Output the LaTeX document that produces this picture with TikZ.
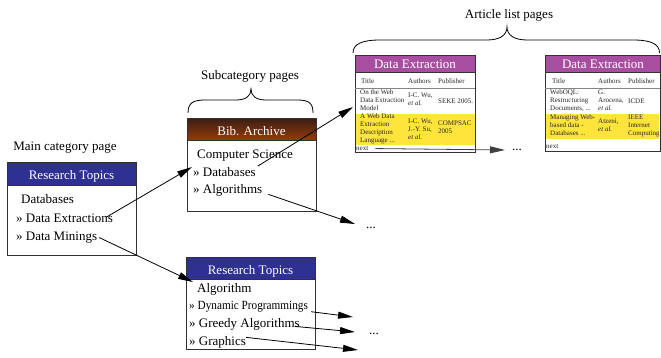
\documentclass[tikz,border=0pt]{standalone}
\usepackage{fontspec}
\setmainfont{Liberation Serif}
\usetikzlibrary{arrows.meta,calc}
\definecolor{hblue}{RGB}{46,49,146}
\definecolor{hpurple}{RGB}{168,78,160}
\definecolor{hyellow}{RGB}{255,228,60}
\definecolor{bdark}{RGB}{60,30,20}
\definecolor{blight}{RGB}{150,60,10}
\definecolor{frm}{RGB}{50,50,50}
\begin{document}
\begin{tikzpicture}[x=1pt,y=-1pt,
  big/.style={font=\fontsize{13}{15}\selectfont, inner sep=0pt, anchor=base west},
  bigc/.style={font=\fontsize{13}{15}\selectfont, inner sep=0pt, anchor=base},
  hdr/.style={font=\fontsize{13}{15}\selectfont, text=white, inner sep=0pt, anchor=base},
  tiny/.style={font=\fontsize{7}{8}\selectfont, inner sep=0pt, anchor=base west, align=left, text=black!85},
  pagebox/.style={draw=frm, line width=0.9pt, fill=white, inner sep=0pt, anchor=north west},
  arr/.style={-{Triangle[length=15pt,width=7pt]}, line width=0.8pt},
  brace/.style={line width=0.8pt}
]
\useasboundingbox (0,0) rectangle (661,358);

% ---------- main category page ----------
\node[bigc] (lblmain) at (65,150.5) {Main category page};
\node[pagebox, minimum width=129pt, minimum height=93pt] (mainbox) at (7,162) {};
\node[pagebox, fill=hblue, minimum width=129pt, minimum height=23pt] (mainhdr) at (7,162) {};
\node[hdr] (mainttl) at (71.5,179.5) {Research Topics};
\node[big] (mdb) at (21,203.5) {Databases};
\node[big] (mde) at (16,222.5) {» Data Extractions};
\node[big] (mdm) at (16,240.5) {» Data Minings};

% ---------- subcategory pages ----------
\node[bigc] (lblsub) at (250,79.5) {Subcategory pages};
\draw[brace] (188,113) .. controls (188,103) and (193,100) .. (205,100) -- (236,100)
  .. controls (246,100) and (251,96) .. (251,89)
  .. controls (251,96) and (256,100) .. (266,100) -- (297,100)
  .. controls (309,100) and (313,103) .. (313,113);

\node[pagebox, minimum width=129pt, minimum height=93pt] (bibbox) at (187,118) {};
\node[pagebox, top color=bdark, bottom color=blight, minimum width=129pt, minimum height=22pt] (bibhdr) at (187,118) {};
\node[hdr] (bibttl) at (251.5,135.5) {Bib. Archive};
\node[big] (bcs) at (197,158.5) {Computer Science};
\node[big] (bdb) at (193,176.5) {» Databases};
\node[big] (bal) at (193,193.5) {» Algorithms};

\node[pagebox, minimum width=129pt, minimum height=92pt] (rtbox) at (186,257) {};
\node[pagebox, fill=hblue, minimum width=129pt, minimum height=22pt] (rthdr) at (186,257) {};
\node[hdr] (rtttl) at (250.5,274.5) {Research Topics};
\node[big] (ral) at (197,292.5) {Algorithm};
\node[big, font=\fontsize{12.5}{14}\selectfont] (rdp) at (189,309.5) {\scalebox{0.9}[1]{» Dynamic Programmings}};
\node[big] (rga) at (189,327.5) {» Greedy Algorithms};
\node[big] (rgr) at (189,345.5) {» Graphics};

% ---------- article list pages ----------
\node[bigc] (lblart) at (509,18.5) {Article list pages};
\draw[brace] (353,53) .. controls (353,44) and (362,40) .. (380,40) -- (487,40)
  .. controls (500,40) and (507,35) .. (507,27)
  .. controls (507,35) and (514,40) .. (527,40) -- (633,40)
  .. controls (651,40) and (659.5,44) .. (659.5,53);

% table 1 (multi-line texts: base = baseline of last line)
\node[pagebox, minimum width=120pt, minimum height=97pt] (tabA) at (355,55) {};
\fill[hyellow] (355.5,114) rectangle (474.5,145);
\draw[frm!60, line width=0.6pt] (355,88) -- (475,88);
\node[pagebox, fill=hpurple, minimum width=120pt, minimum height=17pt] (tabAhdr) at (355,55) {};
\node[hdr] (tabAttl) at (415,69) {Data Extraction};
\node[tiny] (aTitle) at (361,83.5) {Title};
\node[tiny] (aAuth) at (408,83.5) {Authors};
\node[tiny] (aPub) at (438,83.5) {Publisher};
\node[tiny] (a1t) at (360,110.5) {On the Web\\Data Extraction\\Model};
\node[tiny] (a1a) at (408,105.5) {I-C. Wu,\\\textit{et al.}};
\node[tiny] (a1p) at (438,103.5) {SEKE 2005.};
\node[tiny] (a2t) at (360,143) {A Web Data\\Extraction\\Description\\Language ...};
\node[tiny] (a2a) at (408,139.5) {I-C. Wu,\\J.-Y. Su,\\\textit{et al.}};
\node[tiny] (a2p) at (438,134) {COMPSAC\\2005};
\node[tiny] (anext) at (356,150.5) {next};

% table 2
\node[pagebox, minimum width=114.5pt, minimum height=96pt] (tabB) at (545,55) {};
\fill[hyellow] (545.5,114) rectangle (659,139);
\draw[frm!60, line width=0.6pt] (545,88) -- (659.5,88);
\node[pagebox, fill=hpurple, minimum width=114.5pt, minimum height=17pt] (tabBhdr) at (545,55) {};
\node[hdr] (tabBttl) at (603,69) {Data Extraction};
\node[tiny] (bTitle) at (552,83.5) {Title};
\node[tiny] (bAuth) at (598,83.5) {Authors};
\node[tiny] (bPub) at (628,83.5) {Publisher};
\node[tiny] (b1t) at (550,110.5) {WebOQL:\\Restructuring\\Documents, ...};
\node[tiny] (b1a) at (598,110.5) {G.\\Arocena,\\\textit{et al.}};
\node[tiny] (b1p) at (628,103.5) {ICDE};
\node[tiny] (b2t) at (550,135.5) {Managing Web-\\based data -\\Databases ...};
\node[tiny] (b2a) at (598,131.5) {Atzeni,\\\textit{et al.}};
\node[tiny] (b2p) at (628,135.5) {IEEE\\Internet\\Computing};
\node[tiny] (bnext) at (546,148.5) {next};

% ---------- ellipses ----------
\node[bigc] (dots1) at (371,229) {...};
\node[bigc] (dots2) at (374,334) {...};
\node[bigc] (dots3) at (517,151) {...};

% ---------- arrow ends ----------
\coordinate (e1) at (192,167);
\coordinate (e2) at (193,282);
\coordinate (e3) at (353,107);
\coordinate (e4) at (355,224);
\coordinate (e5) at (353,317);
\coordinate (e6) at (355,332);
\coordinate (e7) at (358,350);
\coordinate (e8) at (505,150);

\draw[arr] ([shift={(-7pt,1pt)}]mde.east) -- (e1);
\draw[arr] ([shift={(2pt,0pt)}]mdm.east) -- (e2);
\draw[arr] ([shift={(2pt,6pt)}]bdb.east) -- (e3);
\draw[arr] ([shift={(6pt,-4pt)}]bal.east) -- (e4);
\draw[arr] ([shift={(3pt,-5pt)}]rdp.east) -- (e5);
\draw[arr] ([shift={(-5pt,-2pt)}]rga.east) -- (e6);
\draw[arr] ([shift={(0pt,5pt)}]rgr.east) -- (e7);
\draw[arr, draw=black!75] ([shift={(7pt,0pt)}]anext.east) -- (e8);
\end{tikzpicture}
\end{document}
